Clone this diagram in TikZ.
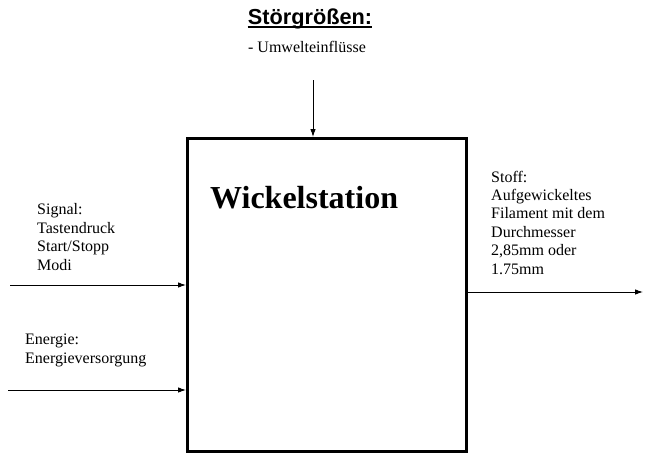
\documentclass[tikz,border=0pt]{standalone}
\usepackage{fontspec}
\setmainfont{Liberation Serif}
\newfontfamily\arialfont{Liberation Sans}
\usetikzlibrary{arrows.meta}
\begin{document}
\begin{tikzpicture}[x=1pt,y=-1pt,
  flow/.style={-{Latex[length=8pt,width=5.5pt]}, line width=0.9pt},
  lbl/.style={anchor=base west, inner sep=0pt, align=left, font=\fontsize{16}{18.4}\selectfont},
  boxstyle/.style={draw, line width=3pt, inner sep=0pt}]
\useasboundingbox (0,0) rectangle (654,472);
\node[boxstyle, minimum width=279pt, minimum height=313pt, anchor=north west] (box) at (186,137) {};
\node[anchor=base, inner sep=0pt, font=\arialfont\bfseries\fontsize{21.7}{24}\selectfont] (title) at (310,24) {Störgrößen:};
\draw[line width=1.6pt] ([yshift=-3pt]title.base west) -- ([yshift=-3pt]title.base east);
\node[anchor=base, inner sep=0pt, font=\fontsize{16}{18}\selectfont] (umw) at (307,52) {- Umwelteinflüsse};
\node[anchor=base west, inner sep=0pt, font=\bfseries\fontsize{32}{36}\selectfont] (wick) at (210,208) {Wickelstation};
\node[lbl] (sig) at (37,270) {Signal:\\Tastendruck\\Start/Stopp\\Modi};
\node[lbl] (en) at (25,363) {Energie:\\Energieversorgung};
\node[lbl] (stoff) at (491,274) {Stoff:\\Aufgewickeltes\\Filament mit dem\\Durchmesser\\2,85mm oder\\1.75mm};
\coordinate (dtop) at (313,80);
\coordinate (s0) at (10,285);
\coordinate (e0) at (8,390);
\coordinate (o1) at (643,292);
\draw[flow] (dtop) -- (dtop |- box.north);
\draw[flow] (s0) -- (s0 -| box.west);
\draw[flow] (e0) -- (e0 -| box.west);
\draw[flow] (o1 -| box.east) -- (o1);
\end{tikzpicture}
\end{document}
